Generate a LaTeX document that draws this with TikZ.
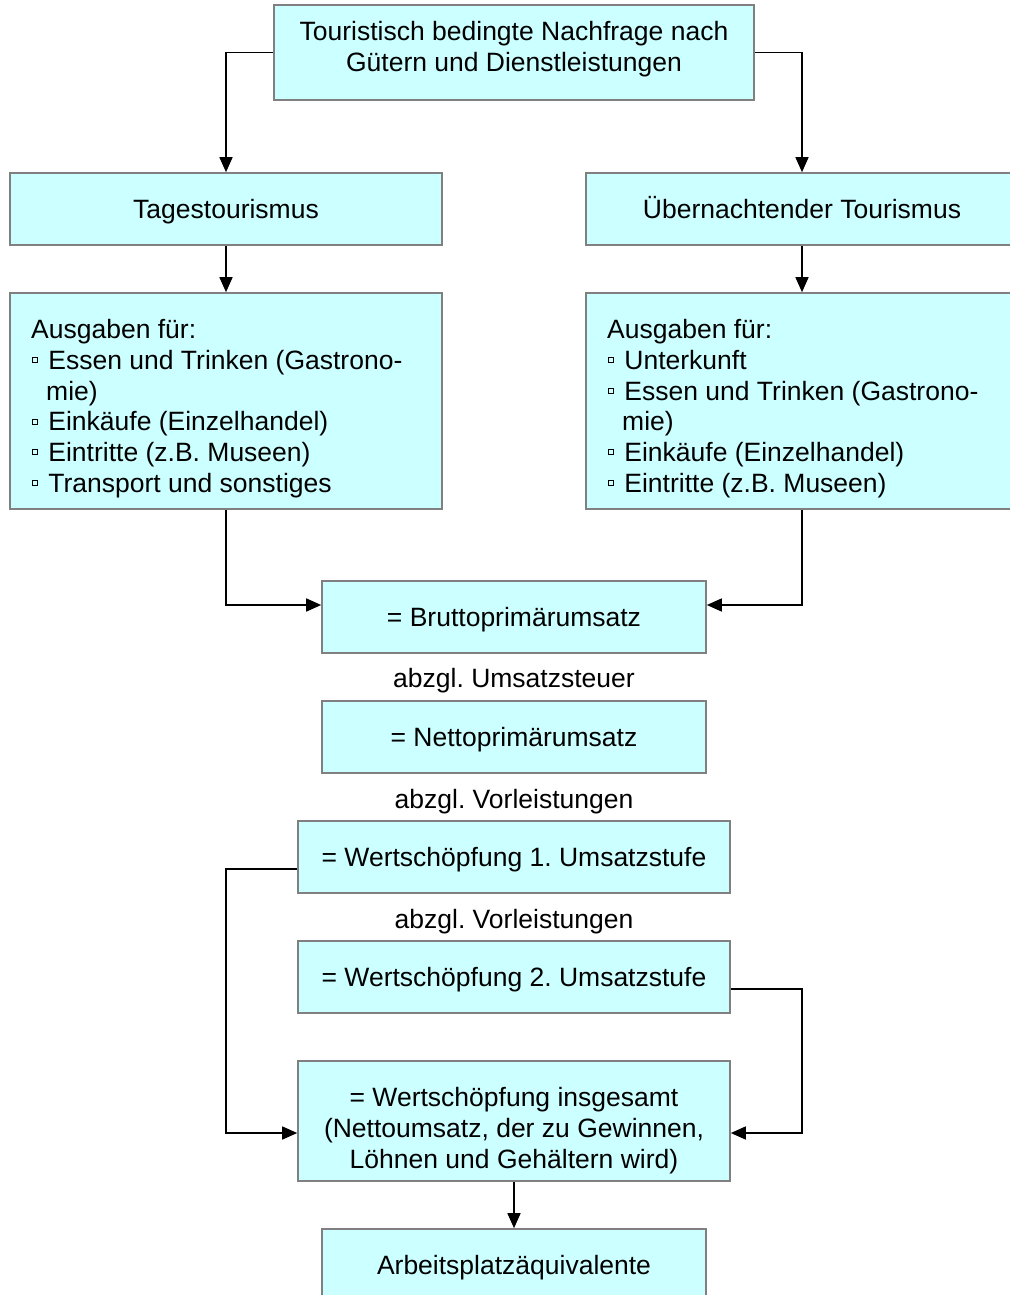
\documentclass[tikz,border=0pt]{standalone}
\usepackage{fontspec}
\setmainfont{Liberation Sans}
\usetikzlibrary{arrows.meta,calc}
\definecolor{boxfill}{HTML}{CCFFFF}
\definecolor{boxline}{HTML}{808080}
\newcommand\bsq{\hspace*{1pt}\raisebox{7pt}{\setlength{\fboxsep}{0pt}\setlength{\fboxrule}{0.7pt}\fbox{\rule{0pt}{4.3pt}\hspace{4.3pt}}}\hspace{10.5pt}}
\frenchspacing
\begin{document}
\frenchspacing
\begin{tikzpicture}[x=1pt,y=-1pt,
  every node/.style={font=\fontsize{26.5}{30.7}\selectfont\frenchspacing, inner sep=0pt},
  one/.style={text height=25pt, text depth=5.6pt},
  box/.style={draw=boxline, line width=1.6pt, fill=boxfill, rectangle,
    minimum width=#1, minimum height=72pt},
  box/.default=432pt,
  arr/.style={draw=black, line width=1.5pt, -{Triangle[length=15pt,width=13pt]}}]
\useasboundingbox (0,0) rectangle (1009,1295);
% boxes
\node[box=480pt, minimum height=95pt] (top) at (514,52.5) {};
\node[align=center] (toptxt) at (514,49) {Touristisch bedingte Nachfrage nach\\Gütern und Dienstleistungen};
\node[box, one] (tages) at (226,209) {Tagestourismus};
\node[box, one] (ueber) at (802,209) {Übernachtender Tourismus};
\node[box, minimum height=216pt] (la) at (226,401) {};
\node[anchor=west, align=left] (latxt) at (31,408.5) {Ausgaben für:\\
\bsq Essen und Trinken (Gastrono-\\
\hspace*{15pt}mie)\\
\bsq Einkäufe (Einzelhandel)\\
\bsq Eintritte (z.B. Museen)\\
\bsq Transport und sonstiges};
\node[box, minimum height=216pt] (ra) at (802,401) {};
\node[anchor=west, align=left] (ratxt) at (607,408.5) {Ausgaben für:\\
\bsq Unterkunft\\
\bsq Essen und Trinken (Gastrono-\\
\hspace*{15pt}mie)\\
\bsq Einkäufe (Einzelhandel)\\
\bsq Eintritte (z.B. Museen)};
\node[box=384pt, one] (brutto) at (514,617) {= Bruttoprimärumsatz};
\node[one] (l1) at (514,678) {abzgl. Umsatzsteuer};
\node[box=384pt, one] (netto) at (514,737) {= Nettoprimärumsatz};
\node[one] (l2) at (514,799) {abzgl. Vorleistungen};
\node[box, one] (w1) at (514,857) {= Wertschöpfung 1. Umsatzstufe};
\node[one] (l3) at (514,919) {abzgl. Vorleistungen};
\node[box, one] (w2) at (514,977) {= Wertschöpfung 2. Umsatzstufe};
\node[box, minimum height=120pt] (wins) at (514,1121) {};
\node[align=center] (winstxt) at (514,1130.5) {= Wertschöpfung insgesamt\\(Nettoumsatz, der zu Gewinnen,\\Löhnen und Gehältern wird)};
\node[box=384pt, one] (arb) at (514,1265) {Arbeitsplatzäquivalente};
% connectors
\draw[arr] (top.west) -| (tages.north);
\draw[arr] (top.east) -| (ueber.north);
\draw[arr] (tages) -- (la);
\draw[arr] (ueber) -- (ra);
\draw[arr] (la.south) |- ([yshift=12pt]brutto.west);
\draw[arr] (ra.south) |- ([yshift=12pt]brutto.east);
\coordinate (wl) at ([yshift=-12pt]wins.west);
\coordinate (wr) at ([yshift=-12pt]wins.east);
\draw[arr] ([yshift=-12pt]w1.west) -| (la.south |- wl) -- (wl);
\draw[arr] ([yshift=-12pt]w2.east) -| (ra.south |- wr) -- (wr);
\draw[arr] (wins) -- (arb);
\end{tikzpicture}
\end{document}
